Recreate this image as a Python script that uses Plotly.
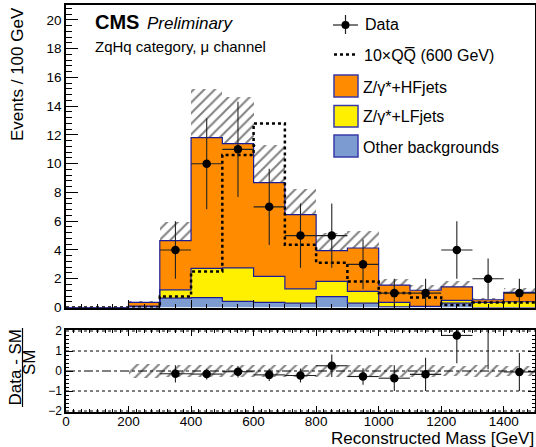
import numpy as np
import plotly.graph_objects as go

# ---------------- data ----------------
bin_edges = list(range(0, 1600, 100))            # 0 ... 1500 GeV
bin_centers = [50 + 100 * i for i in range(15)]

other_bkg = [0, 0, 0.05, 0.65, 0.68, 0.42, 0.35, 0.30, 0.75, 0.30, 0.05, 0.08, 0.30, 0.00, 0.00]
z_lf = [0, 0, 0.05, 0.58, 2.04, 2.33, 1.82, 1.00, 1.07, 0.82, 0.30, 0.00, 0.20, 0.35, 0.40]
z_hf = [0, 0, 0.25, 3.42, 9.10, 8.65, 6.51, 5.16, 2.14, 3.02, 1.21, 1.12, 0.94, 0.19, 0.65]
bkg_unc = [0, 0, 0.12, 1.28, 3.35, 3.25, 2.60, 1.81, 1.20, 1.15, 0.45, 0.36, 0.38, 0.15, 0.28]
signal_10x = [0, 0, 0, 0.77, 2.50, 10.60, 12.80, 4.37, 3.12, 1.80, 1.00, 0.70, 0.17, 0.35, 0.35]
data_counts = [0, 0, 0, 4, 10, 11, 7, 5, 5, 3, 1, 1, 4, 2, 1]

x_ticks = [0, 200, 400, 600, 800, 1000, 1200, 1400]

# ---------------- derived ----------------
other = np.array(other_bkg)
lf = np.array(z_lf)
hf = np.array(z_hf)
unc = np.array(bkg_unc)
sig = np.array(signal_10x)
dat = np.array(data_counts, dtype=float)

c1 = other
c2 = other + lf
c3 = other + lf + hf
total = c3
has_data = dat > 0
x_dat = np.array(bin_centers)[has_data]
y_dat = dat[has_data]
e_dat = np.sqrt(y_dat)
ratio = (y_dat - total[has_data]) / total[has_data]
ratio_err = e_dat / total[has_data]
rel_unc = np.where(total > 0, unc / np.where(total > 0, total, 1), 0)
band_bins = total > 0


def step(v):
    return list(v) + [v[-1]]


ORANGE = "#ff8c00"
YELLOW = "#fff000"
BLUE = "#7b9bd1"
NAVY = "#1c1c96"
FONT = "Liberation Sans, Arial, Helvetica, sans-serif"

W, H = 536, 447
ML, MR, MT, MB = 66, 1, 5, 35
PW, PH = W - ML - MR, H - MT - MB


def px(x):
    return (x - ML) / PW


def py(y):
    return (H - MB - y) / PH


fig = go.Figure()

# stacked backgrounds as step fills (upper panel)
fig.add_trace(go.Scatter(x=bin_edges, y=step(c1), mode="lines", line=dict(shape="hv", color=NAVY, width=1.2),
                         fill="tozeroy", fillcolor=BLUE, xaxis="x", yaxis="y", hoverinfo="skip"))
fig.add_trace(go.Scatter(x=bin_edges, y=step(c2), mode="lines", line=dict(shape="hv", color=NAVY, width=1.2),
                         fill="tonexty", fillcolor=YELLOW, xaxis="x", yaxis="y", hoverinfo="skip"))
fig.add_trace(go.Scatter(x=bin_edges, y=step(c3), mode="lines", line=dict(shape="hv", color=NAVY, width=1.2),
                         fill="tonexty", fillcolor=ORANGE, xaxis="x", yaxis="y", hoverinfo="skip"))

# uncertainty hatch (upper)
hatch = dict(color="rgba(0,0,0,0)", line=dict(width=0),
             pattern=dict(shape="/", fgcolor="black", bgcolor="rgba(0,0,0,0)", size=7.5, solidity=0.26,
                          fillmode="overlay"))
fig.add_trace(go.Bar(x=np.array(bin_centers)[band_bins], y=(2 * unc)[band_bins], base=(total - unc)[band_bins],
                     width=100, marker=hatch, xaxis="x", yaxis="y", hoverinfo="skip"))

# signal
fig.add_trace(go.Scatter(x=bin_edges, y=step(sig), mode="lines",
                         line=dict(shape="hv", color="black", width=2.5, dash="dot"),
                         xaxis="x", yaxis="y", hoverinfo="skip"))

# data
fig.add_trace(go.Scatter(x=x_dat, y=y_dat, mode="markers",
                         marker=dict(color="black", size=8.5),
                         error_y=dict(type="data", array=e_dat, width=0, thickness=1.1, color="#222"),
                         error_x=dict(type="constant", value=50, width=0, thickness=1.1, color="#222"),
                         xaxis="x", yaxis="y", hoverinfo="skip"))

# ratio hatch band
fig.add_trace(go.Bar(x=np.array(bin_centers)[band_bins], y=(2 * rel_unc)[band_bins], base=(-rel_unc)[band_bins],
                     width=100, marker=hatch, xaxis="x2", yaxis="y2", hoverinfo="skip"))
# ratio points
fig.add_trace(go.Scatter(x=x_dat, y=ratio, mode="markers",
                         marker=dict(color="black", size=8.5),
                         error_y=dict(type="data", array=ratio_err, width=0, thickness=1.1, color="#222"),
                         error_x=dict(type="constant", value=50, width=0, thickness=1.1, color="#222"),
                         xaxis="x2", yaxis="y2", hoverinfo="skip", cliponaxis=True))

up_bottom = py(307.5)
lo_top = py(330)

axis_common = dict(showline=True, linecolor="black", linewidth=1.5, mirror=True, showgrid=False,
                   zeroline=False, ticks="inside", tickcolor="black", automargin=False,
                   tickfont=dict(family=FONT, size=13.5, color="black"))

fig.update_layout(
    width=W, height=H, margin=dict(l=ML, r=MR, t=MT, b=MB, autoexpand=False),
    paper_bgcolor="white", plot_bgcolor="white", showlegend=False,
    barmode="overlay", bargap=0,
    xaxis=dict(axis_common, domain=[0, 1], range=[0, 1500], anchor="y", matches="x2",
               showticklabels=False, dtick=200, tick0=0, ticklen=8,
               minor=dict(ticks="inside", dtick=50, ticklen=4, tickcolor="black")),
    yaxis=dict(axis_common, domain=[up_bottom, 1], range=[0, 21.04], anchor="x",
               dtick=2, tick0=0, ticklen=12,
               minor=dict(ticks="inside", dtick=0.4, ticklen=6, tickcolor="black")),
    xaxis2=dict(axis_common, domain=[0, 1], range=[0, 1500], anchor="y2", mirror="allticks",
                tickvals=x_ticks, ticklen=6, ticklabelstandoff=-4,
                minor=dict(ticks="inside", dtick=25, ticklen=3, tickcolor="black")),
    yaxis2=dict(axis_common, domain=[0, lo_top], range=[-2.05, 2.05], anchor="x2", mirror="allticks",
                tickvals=[-2, -1, 0, 1, 2], ticklen=7, tickfont=dict(family=FONT, size=12, color="black"),
                minor=dict(ticks="inside", dtick=0.2, ticklen=3.5, tickcolor="black")),
)

shapes = []
# ratio reference lines
for yv in (-2, -1, 1, 2):
    shapes.append(dict(type="line", xref="x2 domain", yref="y2", x0=0, x1=1, y0=yv, y1=yv,
                       line=dict(color="black", width=1, dash="dot"), layer="below"))
shapes.append(dict(type="line", xref="x2 domain", yref="y2", x0=0, x1=1, y0=0, y1=0,
                   line=dict(color="black", width=1, dash="dashdot"), layer="below"))

# legend glyphs
# Data
shapes.append(dict(type="line", xref="paper", yref="paper", x0=px(333), x1=px(358), y0=py(25), y1=py(25),
                   line=dict(color="#222", width=1.2)))
shapes.append(dict(type="line", xref="paper", yref="paper", x0=px(345.5), x1=px(345.5), y0=py(15), y1=py(34),
                   line=dict(color="#222", width=1.2)))
shapes.append(dict(type="circle", xref="paper", yref="paper", xsizemode="pixel", ysizemode="pixel",
                   xanchor=px(345.5), yanchor=py(25), x0=-4, x1=4, y0=-4, y1=4,
                   fillcolor="black", line=dict(color="black", width=0)))
# signal
shapes.append(dict(type="line", xref="paper", yref="paper", x0=px(334), x1=px(358), y0=py(54.5), y1=py(54.5),
                   line=dict(color="black", width=2.5, dash="dot")))
# boxes
for (ytop, ybot, col) in [(75, 97, ORANGE), (105.5, 127, YELLOW), (135, 157, BLUE)]:
    shapes.append(dict(type="rect", xref="paper", yref="paper", x0=px(334), x1=px(358), y0=py(ybot), y1=py(ytop),
                       fillcolor=col, line=dict(color="#3a3aa8", width=1.5)))

# lower-panel y title fraction bar
shapes.append(dict(type="line", xref="paper", yref="paper", x0=px(22.5), x1=px(22.5), y0=py(407), y1=py(328),
                   line=dict(color="black", width=1.2)))
fig.update_layout(shapes=shapes)

ann = []


def txt(x, y, s, size, xa="left", ya="middle", angle=0, **kw):
    ann.append(dict(x=px(x), y=py(y), xref="paper", yref="paper", text=s, showarrow=False,
                    xanchor=xa, yanchor=ya, textangle=angle,
                    font=dict(family=FONT, size=size, color="black"), **kw))


txt(93, 22, "<b>CMS</b>", 20)
txt(145, 23, "<i>Preliminary</i>", 17)
txt(93, 47, "ZqHq category, \u03bc channel", 15)
txt(363, 25, "Data", 16)
txt(362, 55, "10\u00d7QQ\u0305 (600 GeV)", 16)
txt(361, 87, "Z/\u03b3*+HFjets", 16)
txt(361, 117, "Z/\u03b3*+LFjets", 16)
txt(361, 147, "Other backgrounds", 16)
txt(17, 5, "Events / 100 GeV", 17, xa="center", ya="top", angle=-90)
txt(536, 438.5, "Reconstructed Mass [GeV]", 17, xa="right", ya="middle")
txt(15, 367.5, "Data - SM", 17, xa="center", ya="middle", angle=-90)
txt(29, 362, "SM", 17, xa="center", ya="middle", angle=-90)
txt(533, 1, "2.2 fb<sup>-1</sup> (13 TeV)", 13, xa="right", ya="bottom")
fig.update_layout(annotations=ann)

fig.write_html("out.html", config={"displayModeBar": False},
               post_script="document.body.style.margin='0';document.body.style.padding='0';")
